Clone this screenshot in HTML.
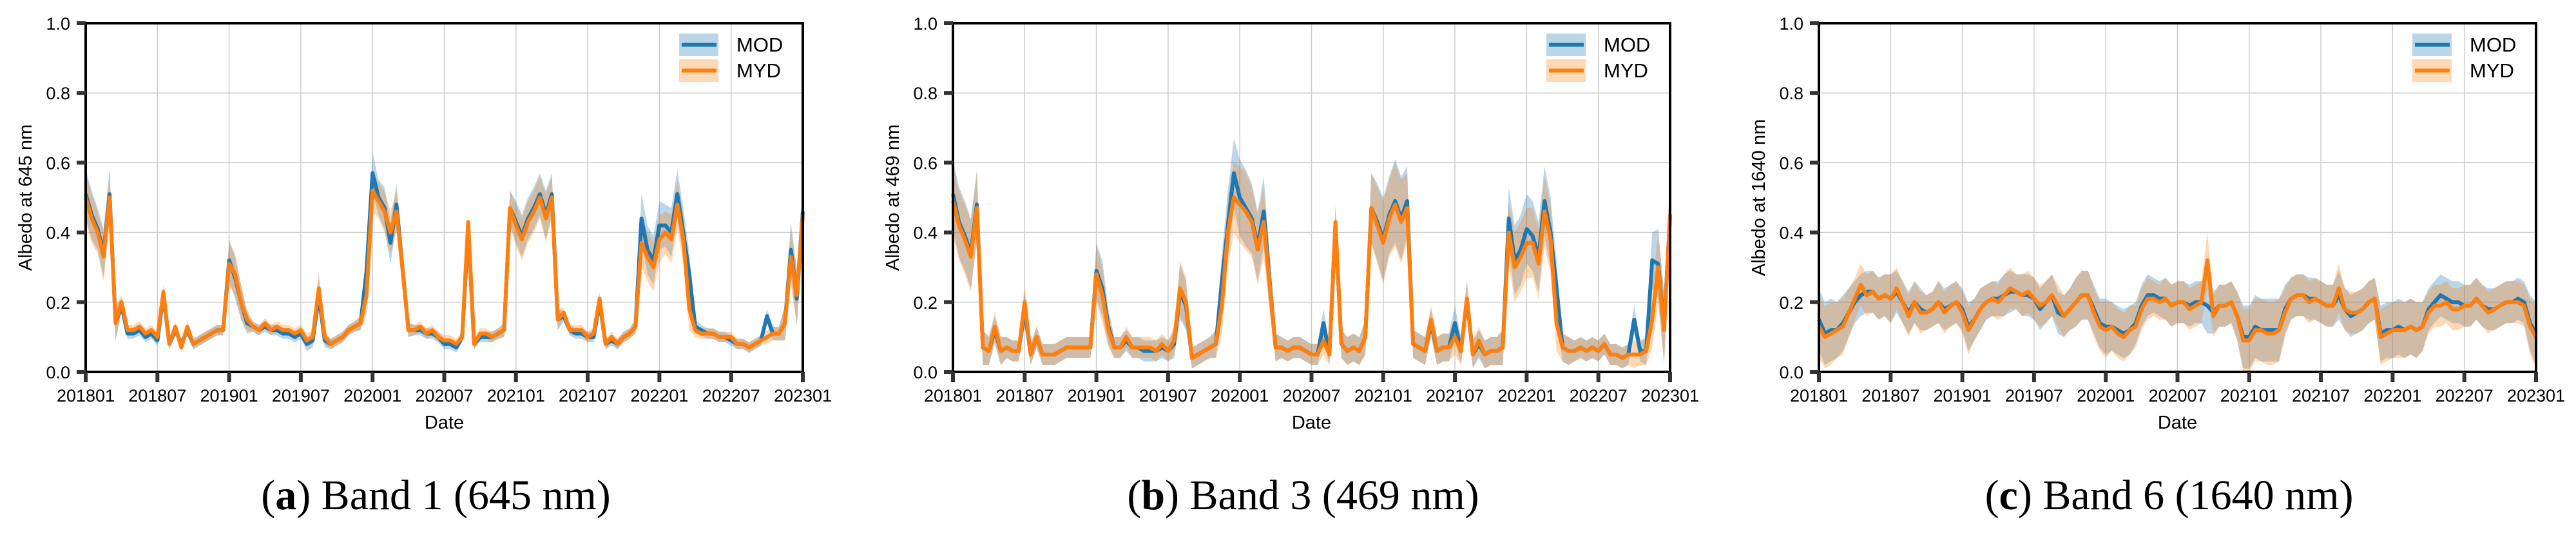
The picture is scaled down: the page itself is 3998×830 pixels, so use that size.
<!DOCTYPE html>
<html><head><meta charset="utf-8"><style>
html,body{margin:0;padding:0;background:#fff;}
svg{display:block;}
</style></head><body>
<svg id="fig" width="3998" height="830" viewBox="0 0 3998 830" xmlns="http://www.w3.org/2000/svg"></svg>
<script>
// x tick labels and y ticks
const xTickLabels = ["201801","201807","201901","201907","202001","202007","202101","202107","202201","202207","202301"];
const yTickValues = [0.0,0.2,0.4,0.6,0.8,1.0];
const seriesNames = ["MOD","MYD"];
const panelTitles = ["Albedo at 645 nm","Albedo at 469 nm","Albedo at 1640 nm"];
const captionLetters = ["a","b","c"];
const captionTexts = ["Band 1 (645 nm)","Band 3 (469 nm)","Band 6 (1640 nm)"];

// Panel (a) Band 1, half-month samples Jan 2018 - Jan 2023
const A_MYD = [0.50,0.44,0.40,0.33,0.50,0.14,0.20,0.12,0.12,0.13,
0.11,0.12,0.10,0.23,0.08,0.13,0.07,0.13,0.08,0.09,
0.10,0.11,0.12,0.12,0.31,0.28,0.20,0.15,0.13,0.12,
0.14,0.12,0.13,0.12,0.12,0.11,0.12,0.09,0.10,0.24,
0.10,0.08,0.09,0.10,0.12,0.13,0.14,0.22,0.52,0.49,
0.46,0.40,0.46,0.30,0.12,0.12,0.13,0.11,0.12,0.10,
0.09,0.09,0.08,0.10,0.43,0.08,0.11,0.11,0.10,0.11,
0.12,0.47,0.42,0.38,0.43,0.46,0.50,0.44,0.50,0.15,
0.17,0.12,0.12,0.12,0.10,0.11,0.21,0.08,0.10,0.08,
0.10,0.11,0.13,0.37,0.33,0.30,0.38,0.40,0.38,0.48,
0.38,0.18,0.12,0.11,0.11,0.11,0.10,0.10,0.10,0.08,
0.08,0.07,0.08,0.09,0.10,0.11,0.11,0.14,0.33,0.22,0.45];
const A_MOD = [0.51,0.45,0.41,0.34,0.51,0.14,0.19,0.11,0.11,0.12,
0.10,0.11,0.09,0.22,0.08,0.12,0.08,0.12,0.08,0.09,
0.10,0.11,0.12,0.12,0.32,0.27,0.20,0.14,0.13,0.12,
0.13,0.12,0.12,0.11,0.11,0.10,0.11,0.08,0.09,0.22,
0.09,0.08,0.09,0.10,0.12,0.13,0.14,0.29,0.57,0.50,
0.47,0.37,0.48,0.30,0.12,0.12,0.12,0.11,0.11,0.10,
0.08,0.08,0.07,0.10,0.41,0.08,0.10,0.10,0.10,0.11,
0.12,0.47,0.43,0.39,0.44,0.47,0.51,0.45,0.51,0.15,
0.16,0.12,0.11,0.11,0.10,0.10,0.20,0.08,0.09,0.08,
0.10,0.11,0.13,0.44,0.35,0.32,0.42,0.42,0.40,0.51,
0.40,0.28,0.13,0.12,0.11,0.11,0.10,0.10,0.09,0.08,
0.08,0.07,0.08,0.09,0.16,0.11,0.11,0.14,0.35,0.21,0.46];
const A_SD = [0.07,0.07,0.06,0.07,0.07,0.05,0.02,0.015,0.015,0.015,
0.015,0.015,0.015,0.02,0.015,0.015,0.015,0.015,0.015,0.015,
0.015,0.015,0.015,0.015,0.06,0.06,0.05,0.03,0.015,0.015,
0.015,0.015,0.015,0.015,0.015,0.015,0.015,0.02,0.02,0.05,
0.02,0.015,0.015,0.015,0.015,0.015,0.02,0.05,0.06,0.05,
0.06,0.06,0.06,0.06,0.02,0.015,0.015,0.015,0.015,0.015,
0.015,0.015,0.015,0.015,0.02,0.015,0.015,0.015,0.015,0.015,
0.02,0.05,0.06,0.06,0.06,0.06,0.06,0.07,0.06,0.03,
0.015,0.015,0.015,0.015,0.015,0.015,0.02,0.015,0.015,0.015,
0.015,0.015,0.02,0.07,0.07,0.07,0.07,0.06,0.07,0.07,
0.07,0.06,0.02,0.015,0.015,0.015,0.015,0.015,0.015,0.015,
0.015,0.015,0.015,0.015,0.02,0.02,0.02,0.05,0.08,0.08,0.08];

// Panel (b) Band 3
const B_MYD = [0.49,0.42,0.38,0.33,0.47,0.07,0.06,0.13,0.06,0.07,
0.06,0.06,0.20,0.05,0.10,0.05,0.05,0.05,0.06,0.07,
0.07,0.07,0.07,0.07,0.28,0.22,0.12,0.07,0.07,0.10,
0.07,0.07,0.07,0.07,0.06,0.08,0.06,0.09,0.24,0.20,
0.04,0.05,0.06,0.07,0.08,0.19,0.40,0.50,0.48,0.46,
0.43,0.35,0.43,0.25,0.07,0.07,0.06,0.07,0.07,0.06,
0.05,0.05,0.09,0.05,0.43,0.08,0.06,0.07,0.06,0.10,
0.47,0.42,0.37,0.44,0.48,0.43,0.47,0.08,0.07,0.06,
0.15,0.06,0.07,0.07,0.10,0.06,0.21,0.05,0.09,0.05,
0.06,0.06,0.07,0.40,0.30,0.33,0.37,0.37,0.31,0.46,
0.38,0.14,0.07,0.06,0.06,0.07,0.06,0.07,0.06,0.08,
0.05,0.05,0.04,0.05,0.05,0.05,0.06,0.15,0.30,0.12,0.45];
const B_MOD = [0.51,0.43,0.39,0.34,0.48,0.07,0.06,0.12,0.06,0.07,
0.06,0.06,0.18,0.05,0.10,0.05,0.05,0.05,0.06,0.07,
0.07,0.07,0.07,0.07,0.29,0.24,0.13,0.07,0.07,0.09,
0.07,0.07,0.06,0.06,0.06,0.07,0.06,0.08,0.23,0.19,
0.04,0.05,0.06,0.07,0.08,0.26,0.42,0.57,0.50,0.47,
0.44,0.36,0.46,0.26,0.07,0.07,0.06,0.07,0.07,0.06,
0.05,0.05,0.14,0.05,0.42,0.08,0.06,0.07,0.06,0.10,
0.47,0.43,0.38,0.45,0.49,0.44,0.49,0.08,0.07,0.06,
0.14,0.06,0.07,0.07,0.14,0.06,0.21,0.05,0.08,0.05,
0.06,0.06,0.07,0.44,0.32,0.35,0.41,0.39,0.33,0.49,
0.40,0.24,0.07,0.06,0.06,0.07,0.06,0.07,0.06,0.08,
0.05,0.05,0.04,0.05,0.15,0.06,0.06,0.32,0.31,0.13,0.45];
const B_SD = [0.10,0.10,0.10,0.10,0.10,0.05,0.04,0.04,0.04,0.03,
0.03,0.03,0.05,0.03,0.03,0.03,0.03,0.03,0.03,0.03,
0.03,0.03,0.03,0.03,0.08,0.08,0.05,0.03,0.03,0.03,
0.03,0.03,0.03,0.03,0.03,0.03,0.03,0.04,0.08,0.07,
0.03,0.03,0.03,0.03,0.04,0.08,0.10,0.10,0.11,0.11,
0.10,0.10,0.10,0.08,0.04,0.03,0.03,0.03,0.03,0.03,
0.03,0.03,0.04,0.03,0.05,0.04,0.04,0.04,0.04,0.05,
0.10,0.11,0.12,0.11,0.12,0.12,0.10,0.04,0.04,0.04,
0.04,0.04,0.04,0.04,0.05,0.04,0.05,0.04,0.04,0.04,
0.04,0.04,0.05,0.09,0.10,0.10,0.10,0.10,0.10,0.10,
0.10,0.08,0.04,0.04,0.03,0.03,0.03,0.03,0.03,0.03,
0.03,0.03,0.03,0.03,0.04,0.03,0.04,0.08,0.10,0.10,0.10];

// Panel (c) Band 6
const C_MYD = [0.13,0.10,0.11,0.12,0.13,0.17,0.21,0.25,0.22,0.23,
0.21,0.22,0.21,0.24,0.20,0.16,0.20,0.17,0.17,0.18,
0.20,0.17,0.19,0.20,0.17,0.12,0.15,0.18,0.20,0.21,
0.20,0.22,0.24,0.23,0.22,0.23,0.21,0.19,0.20,0.22,
0.19,0.16,0.18,0.20,0.22,0.22,0.17,0.13,0.12,0.13,
0.11,0.10,0.12,0.13,0.18,0.21,0.21,0.20,0.21,0.19,
0.20,0.20,0.18,0.19,0.20,0.32,0.16,0.19,0.19,0.20,
0.16,0.09,0.09,0.12,0.12,0.11,0.11,0.12,0.17,0.21,
0.22,0.22,0.20,0.21,0.20,0.19,0.19,0.24,0.18,0.17,
0.17,0.18,0.20,0.21,0.10,0.11,0.12,0.12,0.12,0.13,
0.12,0.13,0.17,0.19,0.19,0.20,0.18,0.18,0.19,0.19,
0.21,0.19,0.17,0.18,0.19,0.20,0.20,0.20,0.19,0.13,0.10];
const C_MOD = [0.15,0.11,0.12,0.12,0.14,0.17,0.20,0.22,0.23,0.23,
0.21,0.22,0.21,0.23,0.20,0.17,0.20,0.18,0.17,0.18,
0.20,0.18,0.19,0.20,0.18,0.13,0.15,0.18,0.20,0.21,
0.21,0.22,0.23,0.23,0.22,0.22,0.21,0.18,0.20,0.22,
0.17,0.16,0.18,0.20,0.22,0.22,0.18,0.14,0.13,0.13,
0.12,0.11,0.12,0.14,0.19,0.22,0.22,0.21,0.21,0.19,
0.20,0.20,0.19,0.20,0.20,0.19,0.17,0.19,0.19,0.20,
0.16,0.10,0.10,0.13,0.12,0.12,0.12,0.12,0.18,0.21,
0.22,0.22,0.21,0.21,0.20,0.19,0.19,0.22,0.18,0.16,
0.17,0.18,0.20,0.21,0.11,0.12,0.12,0.13,0.12,0.13,
0.12,0.13,0.18,0.20,0.22,0.21,0.20,0.20,0.19,0.19,
0.21,0.19,0.18,0.18,0.19,0.20,0.20,0.21,0.20,0.14,0.11];
const C_SD = [0.09,0.09,0.09,0.08,0.08,0.07,0.06,0.06,0.06,0.06,
0.06,0.06,0.07,0.06,0.06,0.06,0.06,0.06,0.05,0.05,
0.06,0.06,0.06,0.06,0.06,0.07,0.06,0.06,0.05,0.05,
0.05,0.06,0.06,0.05,0.06,0.06,0.06,0.06,0.06,0.06,
0.06,0.06,0.06,0.07,0.07,0.07,0.07,0.07,0.08,0.07,
0.07,0.07,0.07,0.06,0.06,0.06,0.05,0.05,0.06,0.06,
0.06,0.06,0.06,0.06,0.06,0.08,0.06,0.06,0.06,0.06,
0.07,0.09,0.09,0.09,0.09,0.09,0.09,0.09,0.07,0.06,
0.06,0.06,0.06,0.06,0.06,0.06,0.06,0.07,0.06,0.06,
0.06,0.06,0.06,0.06,0.08,0.08,0.08,0.08,0.08,0.08,
0.08,0.07,0.06,0.06,0.06,0.06,0.06,0.06,0.06,0.06,
0.06,0.06,0.06,0.06,0.06,0.06,0.06,0.06,0.06,0.08,0.09];

const panelsData = [[A_MOD,A_MYD,A_SD],[B_MOD,B_MYD,B_SD],[C_MOD,C_MYD,C_SD]];

const NS = "http://www.w3.org/2000/svg";
const svg = document.getElementById('fig');
function mk(tag, attrs, parent){
  const e = document.createElementNS(NS, tag);
  for (const k in attrs) e.setAttribute(k, attrs[k]);
  (parent||svg).appendChild(e);
  return e;
}
const lefts = [133,1479,2823];
const W = 1113, TOP = 36, BOT = 577;
const FONT = '"Liberation Sans", Arial, sans-serif';
const SERIF = '"Liberation Serif", "Times New Roman", serif';
const lineCols = ["#1f77b4","#ff7f0e"];
const fillCols = ["rgba(31,119,180,0.3)","rgba(255,127,14,0.3)"];

lefts.forEach((L, p) => {
  const R = L + W;
  const g = mk('g', {});
  
  
  const nMonths = (xTickLabels.length - 1) * 6;
  const xOfMonth = m => L + m / nMonths * W;
  const yOf = v => BOT - v * (BOT - TOP);
  // grid
  xTickLabels.forEach((lab, k) => {
    const x = xOfMonth(k * 6);
    const gl = mk('line', {x1:x, x2:x, y1:TOP, y2:BOT, stroke:'#cccccc', 'stroke-width':1.5}, g);
    
    
  });
  yTickValues.forEach(v => {
    const y = yOf(v);
    const gl = mk('line', {x1:L, x2:R, y1:y, y2:y, stroke:'#cccccc', 'stroke-width':1.5}, g);
    
    
  });
  const [mod, myd, sd] = panelsData[p];
  const series = [mod, myd];
  const xi = i => xOfMonth(i / 2);
  const clip = v => Math.max(0, Math.min(1, v));
  // bands
  series.forEach((arr, s) => {
    let d = '';
    arr.forEach((v, i) => { d += (i ? 'L' : 'M') + xi(i).toFixed(1) + ',' + yOf(clip(v + sd[i])).toFixed(1); });
    for (let i = arr.length - 1; i >= 0; i--) d += 'L' + xi(i).toFixed(1) + ',' + yOf(clip(arr[i] - sd[i])).toFixed(1);
    const b = mk('path', {d: d + 'Z', fill: fillCols[s], stroke:'none'}, g);
    
    
  });
  series.forEach((arr, s) => {
    let d = '';
    arr.forEach((v, i) => { d += (i ? 'L' : 'M') + xi(i).toFixed(1) + ',' + yOf(v).toFixed(1); });
    const ln = mk('path', {d: d, fill:'none', stroke: lineCols[s], 'stroke-width':6, 'stroke-linejoin':'round'}, g);
    
    
  });
  // frame
  const fr = mk('rect', {x:L, y:TOP, width:W, height:BOT-TOP, fill:'none', stroke:'#000', 'stroke-width':4}, g);
  
  
  // x ticks
  xTickLabels.forEach((lab, k) => {
    const x = xOfMonth(k * 6);
    const t = mk('line', {x1:x, x2:x, y1:BOT, y2:BOT+16, stroke:'#333', 'stroke-width':6}, g);
    
    
    const tx = mk('text', {x:x, y:623, 'font-family':FONT, 'font-size':27, 'text-anchor':'middle', fill:'#000'}, g);
    tx.textContent = lab;
    
    
  });
  yTickValues.forEach(v => {
    const y = yOf(v);
    const t = mk('line', {x1:L-14, x2:L, y1:y, y2:y, stroke:'#333', 'stroke-width':6}, g);
    
    
    const tx = mk('text', {x:L-24, y:y+10, 'font-family':FONT, 'font-size':27, 'text-anchor':'end', fill:'#000'}, g);
    tx.textContent = v.toFixed(1);
    
    
  });
  const xt = mk('text', {x:L + W/2, y:665, 'font-family':FONT, 'font-size':29, 'text-anchor':'middle', fill:'#000'}, g);
  xt.textContent = 'Date';
  
  
  const yc = (TOP + BOT) / 2;
  const yt = mk('text', {x:L-84, y:yc, 'font-family':FONT, 'font-size':29, 'text-anchor':'middle', fill:'#000', transform:'rotate(-90 ' + (L-84) + ' ' + yc + ')'}, g);
  yt.textContent = panelTitles[p];
  
  
  // legend
  const lg = mk('g', {}, g);
  
  
  seriesNames.forEach((nm, s) => {
    const y0 = 52 + s * 40;
    const e = mk('g', {}, lg);
    
    
    mk('rect', {x:R-192, y:y0, width:61, height:35, fill:fillCols[s]}, e);
    mk('line', {x1:R-188, x2:R-134, y1:y0+17.5, y2:y0+17.5, stroke:lineCols[s], 'stroke-width':6}, e);
    const t = mk('text', {x:R-103, y:y0+28, 'font-family':FONT, 'font-size':31, fill:'#000'}, e);
    t.textContent = nm;
  });
  // caption
  const cap = mk('text', {x:L + W/2 - 13, y:790, 'font-family':SERIF, 'font-size':66, 'text-anchor':'middle', fill:'#000'}, g);
  
  
  const t1 = mk('tspan', {}, cap); t1.textContent = '(';
  const t2 = mk('tspan', {'font-weight':'bold'}, cap); t2.textContent = captionLetters[p];
  const t3 = mk('tspan', {}, cap); t3.textContent = ') ' + captionTexts[p];
});
</script>
</body></html>
